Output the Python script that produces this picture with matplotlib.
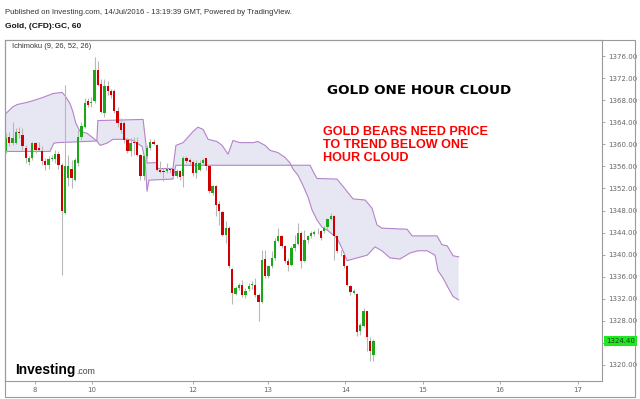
import numpy as np
import matplotlib
matplotlib.use("Agg")
import matplotlib.pyplot as plt
from matplotlib.patches import Rectangle

# hourly gold candles (open, high, low, close)
opens = [1358.7, 1361.4, 1360.2, 1360.2, 1362.3, 1361.6, 1359.4, 1356.7, 1357.5, 1360.2,
         1359.3, 1358.7, 1356.9, 1356.2, 1357.3, 1357.3, 1358.2, 1356.2, 1347.5, 1353.8,
         1355.6, 1353.5, 1356.6, 1361.4, 1363.2, 1367.8, 1367.4, 1367.9, 1373.5, 1371.0,
         1365.6, 1370.5, 1369.6, 1369.6, 1366.1, 1363.8, 1363.8, 1360.7, 1358.7, 1360.5,
         1360.5, 1358.0, 1354.2, 1357.8, 1359.3, 1360.5, 1359.8, 1355.3, 1355.1, 1355.1,
         1355.4, 1355.6, 1354.2, 1355.1, 1354.2, 1357.6, 1357.1, 1356.7, 1354.8, 1355.3,
         1356.6, 1357.5, 1356.0, 1351.1, 1352.4, 1349.2, 1347.7, 1343.6, 1344.8, 1337.4,
         1332.9, 1334.0, 1334.5, 1332.6, 1333.8, 1334.5, 1334.5, 1332.7, 1331.5, 1339.2,
         1336.2, 1338.0, 1339.4, 1342.5, 1343.4, 1341.6, 1338.9, 1338.1, 1341.2, 1341.9,
         1343.9, 1338.9, 1342.7, 1343.4, 1343.7, 1344.2, 1344.3, 1344.3, 1345.0, 1346.4,
         1347.0, 1343.4, 1340.5, 1340.0, 1338.0, 1334.4, 1333.1, 1332.9, 1326.1, 1327.1,
         1329.7, 1324.4, 1321.9]
highs = [1362.0, 1362.3, 1364.0, 1362.9, 1363.2, 1362.9, 1359.8, 1357.8, 1360.5, 1360.5,
         1360.4, 1359.6, 1357.5, 1357.8, 1358.0, 1358.9, 1358.7, 1356.6, 1370.8, 1358.0,
         1357.1, 1357.5, 1362.5, 1364.0, 1368.3, 1368.3, 1368.5, 1375.9, 1375.1, 1371.9,
         1371.9, 1371.5, 1370.1, 1370.1, 1366.8, 1364.7, 1364.3, 1361.1, 1361.1, 1361.4,
         1361.4, 1358.2, 1358.0, 1359.8, 1360.9, 1360.9, 1360.0, 1356.9, 1355.6, 1356.6,
         1355.8, 1355.8, 1355.6, 1355.3, 1357.8, 1357.8, 1357.5, 1357.1, 1357.1, 1357.1,
         1357.5, 1357.6, 1356.2, 1352.6, 1352.6, 1349.7, 1347.9, 1346.1, 1345.2, 1337.6,
         1334.3, 1334.9, 1335.4, 1334.0, 1334.9, 1335.2, 1335.8, 1333.1, 1340.8, 1340.8,
         1338.2, 1340.7, 1343.0, 1344.8, 1343.6, 1341.8, 1339.4, 1341.6, 1343.6, 1345.7,
         1344.3, 1344.5, 1343.6, 1344.3, 1344.5, 1344.8, 1344.5, 1345.2, 1346.6, 1347.5,
         1347.2, 1343.6, 1340.9, 1340.3, 1338.2, 1334.5, 1333.8, 1333.1, 1327.7, 1330.4,
         1329.8, 1325.0, 1324.8]
lows = [1358.4, 1359.6, 1359.8, 1360.0, 1361.1, 1358.9, 1356.6, 1356.2, 1357.1, 1358.4,
        1358.7, 1356.2, 1355.3, 1355.6, 1356.9, 1356.6, 1355.6, 1336.3, 1347.3, 1352.4,
        1352.0, 1353.3, 1356.0, 1360.7, 1362.9, 1366.8, 1366.8, 1367.4, 1370.5, 1365.6,
        1365.0, 1369.0, 1368.3, 1365.6, 1363.2, 1362.0, 1360.2, 1358.4, 1357.8, 1358.0,
        1357.8, 1353.5, 1353.5, 1357.5, 1358.9, 1359.8, 1355.1, 1354.8, 1353.3, 1354.8,
        1354.8, 1353.8, 1353.8, 1353.5, 1352.2, 1356.6, 1356.4, 1354.2, 1353.8, 1355.1,
        1356.2, 1355.3, 1351.1, 1350.8, 1347.0, 1345.4, 1343.4, 1342.1, 1337.6, 1331.1,
        1332.6, 1333.6, 1332.4, 1332.2, 1333.4, 1333.8, 1332.4, 1328.0, 1331.3, 1335.8,
        1335.8, 1337.6, 1339.0, 1342.3, 1341.2, 1338.5, 1337.1, 1338.0, 1340.7, 1341.8,
        1337.6, 1338.7, 1342.1, 1343.0, 1343.4, 1343.8, 1342.7, 1343.9, 1344.5, 1346.3,
        1339.0, 1340.3, 1339.8, 1337.6, 1334.4, 1332.7, 1332.9, 1325.3, 1325.5, 1326.8,
        1322.6, 1320.8, 1320.8]
closes = [1361.1, 1360.2, 1361.1, 1362.3, 1362.0, 1359.6, 1357.5, 1357.5, 1360.2, 1358.9,
          1358.9, 1356.9, 1356.2, 1357.3, 1357.6, 1358.2, 1356.2, 1347.9, 1356.0, 1356.0,
          1353.8, 1357.1, 1361.4, 1363.4, 1367.4, 1367.2, 1367.6, 1373.5, 1370.8, 1365.9,
          1370.5, 1369.6, 1369.0, 1366.1, 1363.8, 1362.5, 1360.7, 1358.7, 1360.2, 1360.2,
          1358.0, 1354.2, 1357.8, 1359.4, 1360.5, 1360.0, 1355.3, 1354.9, 1354.9, 1355.6,
          1355.3, 1354.2, 1355.1, 1354.0, 1357.6, 1356.9, 1356.7, 1354.8, 1356.6, 1356.6,
          1357.1, 1356.0, 1351.5, 1352.4, 1349.0, 1347.9, 1343.6, 1344.8, 1338.0, 1333.1,
          1334.0, 1334.5, 1332.7, 1333.4, 1334.4, 1334.6, 1332.7, 1331.5, 1339.1, 1336.2,
          1338.0, 1339.4, 1342.5, 1343.4, 1341.6, 1338.9, 1338.1, 1341.2, 1341.9, 1343.9,
          1338.9, 1342.7, 1343.4, 1343.9, 1344.1, 1344.3, 1343.0, 1344.8, 1346.4, 1347.0,
          1343.4, 1340.7, 1340.4, 1338.0, 1334.5, 1333.3, 1333.5, 1325.9, 1327.3, 1329.7,
          1325.0, 1322.6, 1324.4]

# Ichimoku cloud edges (bar index, price), the cloud runs 26 bars ahead
span1_x = [0, 2.1, 3.4, 6.4, 8.2, 11.3, 14.3, 17.1, 18.0, 19.5, 20.4, 21.3, 22.6, 24.7,
           26.2, 27.7, 28.7, 30.8, 32.6, 36.9, 38.7, 41.5, 42.4, 43.0, 43.6, 50.9, 51.8,
           92.7, 93.6, 94.8, 100.9, 102.7, 105.8, 109.5, 111.6, 113.1, 114.6, 122.3,
           123.8, 131.4, 132.9, 134.5, 136.3, 138.0]
span1_y = [1365.6, 1366.8, 1367.2, 1367.6, 1367.9, 1368.5, 1369.2, 1369.4, 1368.8, 1367.4,
           1365.9, 1363.8, 1362.3, 1362.0, 1361.3, 1360.6, 1359.8, 1360.2, 1360.9, 1360.9,
           1360.7, 1359.6, 1357.1, 1351.5, 1353.5, 1353.7, 1356.2, 1356.2, 1355.1, 1353.8,
           1353.7, 1352.4, 1350.1, 1349.9, 1348.4, 1345.4, 1344.8, 1344.6, 1343.4, 1343.4,
           1341.8, 1341.6, 1339.8, 1339.6]
span2_x = [0, 13.4, 14.6, 15.9, 27.7, 28.0, 41.8, 42.7, 43.0, 46.0, 46.3, 50.9, 51.8, 54.0,
           57.0, 58.5, 60.1, 61.6, 64.3, 65.9, 67.7, 69.2, 71.3, 75.3, 76.8, 79.0, 80.5,
           82.9, 85.1, 86.6, 87.5, 89.0, 90.5, 92.1, 93.3, 94.8, 96.3, 98.2, 100.9, 102.4,
           104.0, 107.0, 110.1, 112.5, 114.6, 117.1, 120.1, 123.2, 125.6, 128.4, 130.8,
           131.7, 133.2, 134.8, 136.3, 138.0]
span2_y = [1358.7, 1358.7, 1360.2, 1360.3, 1360.6, 1364.3, 1364.5, 1359.8, 1356.6, 1356.7,
           1355.6, 1355.6, 1359.8, 1360.3, 1362.3, 1363.1, 1362.7, 1360.9, 1360.5, 1359.8,
           1358.2, 1360.7, 1360.3, 1360.3, 1360.5, 1359.8, 1358.9, 1358.5, 1357.6, 1356.6,
           1355.5, 1354.4, 1352.6, 1350.4, 1348.1, 1346.3, 1345.0, 1344.3, 1343.0, 1341.2,
           1338.9, 1339.4, 1339.9, 1341.4, 1340.7, 1339.4, 1339.2, 1340.3, 1340.7, 1340.7,
           1339.9, 1337.1, 1335.8, 1334.0, 1332.4, 1331.8]

day_pos = [8.8, 26.2, 57.0, 79.9, 103.4, 127.1, 150.6, 174.4]
day_labels = ["8", "10", "12", "13", "14", "15", "16", "17"]
price_ticks = np.arange(1320, 1377, 4)
last_price = 1324.40

UP = "#1aa81a"
DOWN = "#d00000"
WICK = "#b8b8b8"
CLOUD_LINE = "#b583c9"
CLOUD_FILL = "#e7e6f3"
GRID = "#9a9a9a"

fig = plt.figure(figsize=(6.4, 3.99), dpi=100)
ax = fig.add_axes([5 / 640, 18 / 399, 597 / 640, 341 / 399])

# cloud
cx = np.r_[span1_x, span2_x[::-1]]
cy = np.r_[span1_y, span2_y[::-1]]
ax.fill(cx, cy, color=CLOUD_FILL, lw=0, zorder=1)
ax.plot(span1_x, span1_y, color=CLOUD_LINE, lw=0.8, zorder=2)
ax.plot(span2_x, span2_y, color=CLOUD_LINE, lw=0.8, zorder=2)

# candles
o = np.array(opens)
h = np.array(highs)
l = np.array(lows)
c = np.array(closes)
idx = np.arange(len(o))
up = c >= o
ax.vlines(idx, l, h, color=WICK, lw=0.8, zorder=3)
body = np.maximum(np.abs(c - o), 0.15)
bottom = np.minimum(o, c)
ax.bar(idx[up], body[up], bottom=bottom[up], width=0.7, color=UP, lw=0, zorder=4)
ax.bar(idx[~up], body[~up], bottom=bottom[~up], width=0.7, color=DOWN, lw=0, zorder=4)

ax.set_xlim(-0.3, 181.7)
ax.set_ylim(1317.1, 1378.9)

ax.yaxis.tick_right()
ax.set_yticks(price_ticks)
# the 1324 label sits under the last-price marker
ax.set_yticklabels(["" if abs(v - last_price) < 2 else f"{v:.2f}" for v in price_ticks])
ax.set_xticks(day_pos)
ax.set_xticklabels(day_labels)
ax.tick_params(axis="both", labelsize=5, colors=GRID, labelcolor="#666666",
               length=2.5, width=0.6, pad=2)
for s in ax.spines.values():
    s.set_color(GRID)
    s.set_linewidth(0.8)

# last price marker on the price scale
ax.annotate(f"{last_price:.2f}", xy=(1.0, last_price), xycoords=("axes fraction", "data"),
            xytext=(3.2, 0), textcoords="offset points", va="center", ha="left",
            fontsize=5, color="#2a3a2a",
            bbox=dict(boxstyle="square,pad=0.3", fc="#1ee81e", ec="none"))

# outer frame around the whole chart
fig.patches.append(Rectangle((5 / 640, 2 / 399), 630 / 640, 357 / 399,
                             transform=fig.transFigure, fill=False,
                             ec=GRID, lw=0.8))

fig.text(5 / 640, 1 - 12 / 399,
         "Published on Investing.com, 14/Jul/2016 - 13:19:39 GMT, Powered by TradingView.",
         fontsize=5.6, color="#333333", va="center", family="Liberation Sans")
fig.text(5 / 640, 1 - 27 / 399, "Gold, (CFD):GC, 60", fontsize=6, fontweight="bold",
         color="#111111", va="center", family="Liberation Sans")
fig.text(12 / 640, 1 - 47 / 399, "Ichimoku (9, 26, 52, 26)", fontsize=5.4,
         color="#333333", va="center", family="Liberation Sans")

fig.text(327 / 640, 1 - 91 / 399, "GOLD ONE HOUR CLOUD", fontsize=9.7, fontweight="bold",
         color="black", va="center")
fig.text(323 / 640, 1 - 145 / 399, "GOLD BEARS NEED PRICE\nTO TREND BELOW ONE\nHOUR CLOUD",
         fontsize=9.1, fontweight="bold", color="#ff0000", va="center", linespacing=1.07,
         family="Liberation Sans")

fig.text(15 / 640, 1 - 370 / 399, "Investing", fontsize=9.9, fontweight="bold",
         color="black", va="center", family="Liberation Sans")
fig.text(76 / 640, 1 - 371 / 399, ".com", fontsize=6.3, color="#444444", va="center",
         family="Liberation Sans")

fig.savefig("out.png", dpi=100, facecolor="white")
